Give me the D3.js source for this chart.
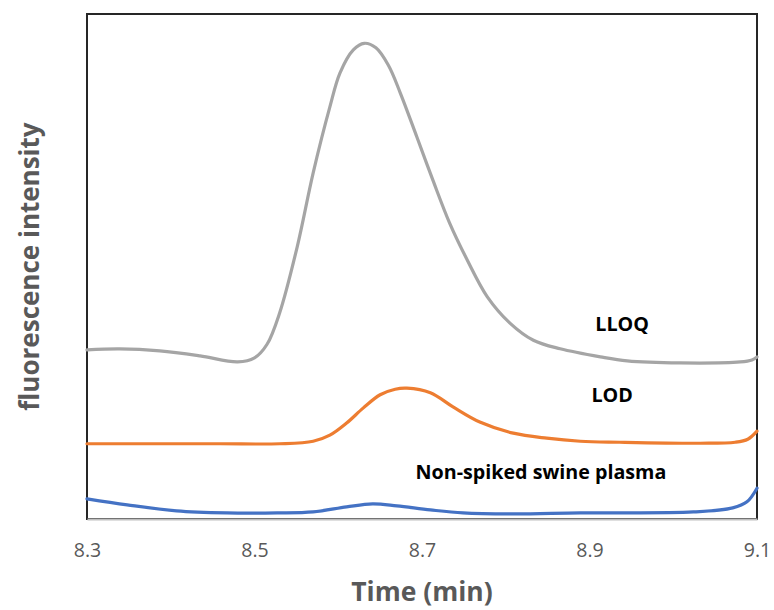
<!DOCTYPE html>
<html>
<head>
<meta charset="utf-8">
<script src="https://cdn.jsdelivr.net/npm/d3@7"></script>
<style>
  body { margin: 0; background: #fff; }
  svg { display: block; }
</style>
</head>
<body>
<svg id="chart" width="774" height="610"></svg>
<script>
// ---- Data ----
const xTicks = [8.3, 8.5, 8.7, 8.9, 9.1];

const lloqTime  = [8.300, 8.339, 8.387, 8.435, 8.480, 8.500, 8.515, 8.530, 8.551, 8.570, 8.590, 8.602, 8.618, 8.631, 8.645, 8.660, 8.674, 8.694, 8.713, 8.733, 8.754, 8.778, 8.805, 8.833, 8.865, 8.913, 8.945, 9.008, 9.080, 9.094, 9.100];
const lloqValue = [33.5, 33.7, 33.3, 32.3, 31.1, 31.9, 34.6, 40.8, 53.9, 68.5, 81.6, 88.3, 92.9, 94.2, 93.3, 89.8, 84.4, 75.6, 67.1, 58.6, 51.3, 44.0, 38.8, 35.4, 33.7, 32.1, 31.3, 30.9, 31.1, 31.5, 32.1];

const lodTime  = [8.300, 8.375, 8.459, 8.530, 8.570, 8.590, 8.610, 8.630, 8.650, 8.668, 8.682, 8.710, 8.737, 8.769, 8.809, 8.849, 8.889, 8.936, 9.032, 9.074, 9.089, 9.100];
const lodValue = [14.9, 14.9, 14.9, 14.9, 15.4, 16.6, 19.0, 22.0, 24.6, 25.7, 25.9, 25.0, 22.2, 19.2, 17.0, 16.0, 15.4, 15.2, 15.0, 15.2, 15.8, 17.4];

const blankTime  = [8.300, 8.348, 8.407, 8.467, 8.527, 8.570, 8.610, 8.641, 8.670, 8.710, 8.749, 8.809, 8.889, 9.024, 9.071, 9.088, 9.100];
const blankValue = [4.0, 2.8, 1.6, 1.2, 1.2, 1.4, 2.4, 3.0, 2.6, 1.8, 1.2, 1.0, 1.2, 1.4, 2.2, 3.4, 6.1];

const seriesNames  = ["LLOQ", "LOD", "Non-spiked swine plasma"];
const seriesColors = ["#a5a5a5", "#ed7d31", "#4472c4"];

// ---- Layout ----
const svg = d3.select("#chart");
const pLeft = 87, pRight = 757, pTop = 14, pBottom = 519;

const x = d3.scaleLinear().domain([8.3, 9.1]).range([pLeft, pRight]);
const y = d3.scaleLinear().domain([0, 100]).range([pBottom, pTop]);

// plot border
svg.append("rect")
  .attr("x", pLeft).attr("y", pTop)
  .attr("width", pRight - pLeft).attr("height", pBottom - pTop)
  .attr("fill", "none").attr("stroke", "#262626").attr("stroke-width", 2);

// series
const series = [
  { name: seriesNames[0], color: seriesColors[0], pts: lloqTime.map((t, i) => [t, lloqValue[i]]) },
  { name: seriesNames[1], color: seriesColors[1], pts: lodTime.map((t, i) => [t, lodValue[i]]) },
  { name: seriesNames[2], color: seriesColors[2], pts: blankTime.map((t, i) => [t, blankValue[i]]) }
];

const line = d3.line()
  .x(d => x(d[0])).y(d => y(d[1]))
  .curve(d3.curveCatmullRom.alpha(0.5));

svg.append("g").selectAll("path")
  .data(series)
  .join("path")
  .attr("d", d => line(d.pts))
  .attr("fill", "none")
  .attr("stroke", d => d.color)
  .attr("stroke-width", 3.2)
  .attr("stroke-linejoin", "round")
  .attr("stroke-linecap", "round");

// x axis
const xAxis = d3.axisBottom(x)
  .tickValues(xTicks)
  .tickSize(0)
  .tickPadding(0)
  .tickFormat(d3.format(".1f"));

const gx = svg.append("g")
  .attr("transform", `translate(0,${pBottom})`)
  .call(xAxis);
gx.select(".domain").attr("stroke", "#bfbfbf").attr("stroke-width", 2.2);
gx.selectAll("text")
  .attr("y", 38)
  .attr("dy", null)
  .attr("fill", "#595959")
  .style("font-family", "'Open Sans', sans-serif")
  .style("font-size", "19.5px");

// axis titles
svg.append("text")
  .attr("x", (pLeft + pRight) / 2)
  .attr("y", 601)
  .attr("text-anchor", "middle")
  .attr("fill", "#595959")
  .style("font-family", "'Open Sans', sans-serif")
  .style("font-weight", "bold")
  .style("font-size", "26.5px")
  .text("Time (min)");

svg.append("text")
  .attr("transform", `translate(39,${(pTop + pBottom) / 2}) rotate(-90)`)
  .attr("text-anchor", "middle")
  .attr("fill", "#595959")
  .style("font-family", "'Open Sans', sans-serif")
  .style("font-weight", "bold")
  .style("font-size", "26px")
  .text("fluorescence intensity");

// series labels
const labelPos = [
  { t: 8.939, v: 37.2 },
  { t: 8.927, v: 23.2 },
  { t: 8.842, v: 7.9 }
];
svg.append("g").selectAll("text")
  .data(series)
  .join("text")
  .attr("x", (d, i) => x(labelPos[i].t))
  .attr("y", (d, i) => y(labelPos[i].v))
  .attr("text-anchor", "middle")
  .attr("fill", "#000")
  .style("font-family", "'Open Sans', sans-serif")
  .style("font-weight", "bold")
  .style("font-size", "19.7px")
  .text(d => d.name);
</script>
</body>
</html>
